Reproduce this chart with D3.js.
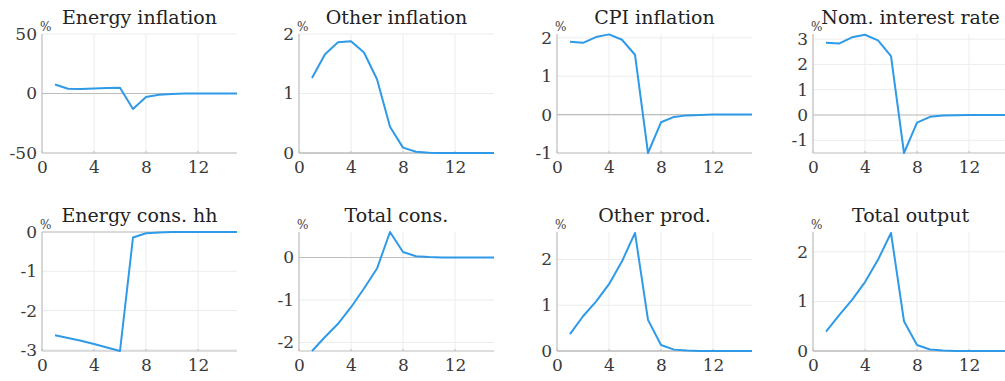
<!DOCTYPE html>
<html>
<head>
<meta charset="utf-8">
<script src="https://cdn.jsdelivr.net/npm/d3@7"></script>
<style>
  body { margin: 0; background: #fff; }
</style>
</head>
<body>
<svg width="1005" height="381"></svg>
<script>
// data (periods 1..15)
var periods = [1, 2, 3, 4, 5, 6, 7, 8, 9, 10, 11, 12, 13, 14, 15];
var titles = ['Energy inflation', 'Other inflation', 'CPI inflation', 'Nom. interest rate',
              'Energy cons. hh', 'Total cons.', 'Other prod.', 'Total output'];

var energyInflation = [7.5, 4, 3.8, 4.3, 4.6, 4.8, -13, -3, -1, -0.4, -0.1, 0, 0, 0, 0];
var otherInflation  = [1.26, 1.66, 1.86, 1.88, 1.69, 1.24, 0.44, 0.09, 0.02, 0.005, 0, 0, 0, 0, 0];
var cpiInflation    = [1.9, 1.87, 2.02, 2.09, 1.95, 1.56, -1.0, -0.2, -0.06, -0.02, -0.01, 0, 0, 0, 0];
var nomRate         = [2.85, 2.82, 3.07, 3.17, 2.95, 2.33, -1.5, -0.3, -0.07, -0.02, -0.01, 0, 0, 0, 0];
var energyConsHH    = [-2.63, -2.7, -2.77, -2.85, -2.94, -3.03, -0.14, -0.03, -0.01, 0, 0, 0, 0, 0, 0];
var totalCons       = [-2.2, -1.87, -1.56, -1.17, -0.73, -0.26, 0.6, 0.13, 0.03, 0.01, 0, 0, 0, 0, 0];
var otherProd       = [0.37, 0.76, 1.08, 1.46, 1.96, 2.58, 0.68, 0.13, 0.03, 0.01, 0, 0, 0, 0, 0];
var totalOutput     = [0.39, 0.72, 1.03, 1.39, 1.84, 2.38, 0.6, 0.12, 0.03, 0.01, 0, 0, 0, 0, 0];

var series = [energyInflation, otherInflation, cpiInflation, nomRate,
              energyConsHH, totalCons, otherProd, totalOutput];

// y limits and ticks for each panel
var yLimits = [[-50, 50], [0, 2], [-1, 2.1], [-1.5, 3.2],
               [-3.03, 0], [-2.2, 0.6], [0, 2.6], [0, 2.4]];
var yTicks = [[-50, 0, 50], [0, 1, 2], [-1, 0, 1, 2], [-1, 0, 1, 2, 3],
              [-3, -2, -1, 0], [-2, -1, 0], [0, 1, 2], [0, 1, 2]];
var xTicks = [0, 4, 8, 12];
var xLimits = [0, 15];

var serif = 'DejaVu Serif';

var svg = d3.select('svg');

// panel layout
var colLeft = [42, 299, 557, 813];
var rowTop = [34, 232];
var plotW = 195;
var plotH = 119;

var lineColor = '#2f9ae8';
var axisColor = '#bdbdbd';
var gridColor = '#ececec';
var textColor = '#3a3a3a';

series.forEach(function (values, i) {
    var left = colLeft[i % 4];
    var top = rowTop[Math.floor(i / 4)];

    var x = d3.scaleLinear().domain(xLimits).range([0, plotW]);
    var y = d3.scaleLinear().domain(yLimits[i]).range([plotH, 0]);

    var g = svg.append('g')
        .attr('transform', 'translate(' + left + ',' + top + ')');

    // grid lines
    g.append('g').selectAll('line')
        .data(xTicks.filter(function (t) { return t > 0; }))
        .enter().append('line')
        .attr('x1', function (d) { return x(d); })
        .attr('x2', function (d) { return x(d); })
        .attr('y1', 0).attr('y2', plotH)
        .attr('stroke', gridColor).attr('stroke-width', 1);

    g.append('g').selectAll('line')
        .data(yTicks[i])
        .enter().append('line')
        .attr('x1', 0).attr('x2', plotW)
        .attr('y1', function (d) { return y(d); })
        .attr('y2', function (d) { return y(d); })
        .attr('stroke', gridColor).attr('stroke-width', 1);

    // zero line
    g.append('line')
        .attr('x1', 0).attr('x2', plotW)
        .attr('y1', y(0)).attr('y2', y(0))
        .attr('stroke', axisColor).attr('stroke-width', 1.2);

    // axes
    var xAxis = d3.axisBottom(x).tickValues(xTicks).tickSize(0).tickPadding(8)
        .tickFormat(d3.format('d'));
    var yAxis = d3.axisLeft(y).tickValues(yTicks[i]).tickSize(0).tickPadding(5)
        .tickFormat(function (d) { return String(d); });

    var gx = g.append('g')
        .attr('transform', 'translate(0,' + plotH + ')')
        .call(xAxis);
    var gy = g.append('g').call(yAxis);

    [gx, gy].forEach(function (ax) {
        ax.attr('font-family', serif).attr('font-size', 17);
        ax.select('.domain').remove();
        ax.selectAll('text').attr('fill', textColor);
    });

    g.append('line')
        .attr('x1', 0).attr('x2', plotW)
        .attr('y1', plotH).attr('y2', plotH)
        .attr('stroke', axisColor).attr('stroke-width', 1.2);
    g.append('line')
        .attr('x1', 0).attr('x2', 0)
        .attr('y1', 0).attr('y2', plotH)
        .attr('stroke', axisColor).attr('stroke-width', 1.2);

    // small inward ticks
    xTicks.forEach(function (t) {
        g.append('line')
            .attr('x1', x(t)).attr('x2', x(t))
            .attr('y1', plotH).attr('y2', plotH - 2)
            .attr('stroke', axisColor);
    });

    // data line
    var line = d3.line()
        .x(function (d, k) { return x(periods[k]); })
        .y(function (d) { return y(d); });

    g.append('path')
        .datum(values)
        .attr('d', line)
        .attr('fill', 'none')
        .attr('stroke', lineColor)
        .attr('stroke-width', 2)
        .attr('stroke-linejoin', 'round');

    // title
    g.append('text')
        .attr('x', plotW / 2)
        .attr('y', -10)
        .attr('text-anchor', 'middle')
        .attr('font-family', serif)
        .attr('font-size', 19)
        .attr('fill', '#222')
        .text(titles[i]);

    // unit label
    g.append('text')
        .attr('x', -2)
        .attr('y', -3)
        .attr('font-family', serif)
        .attr('font-size', 12)
        .attr('fill', textColor)
        .text('%');
});
</script>
</body>
</html>
